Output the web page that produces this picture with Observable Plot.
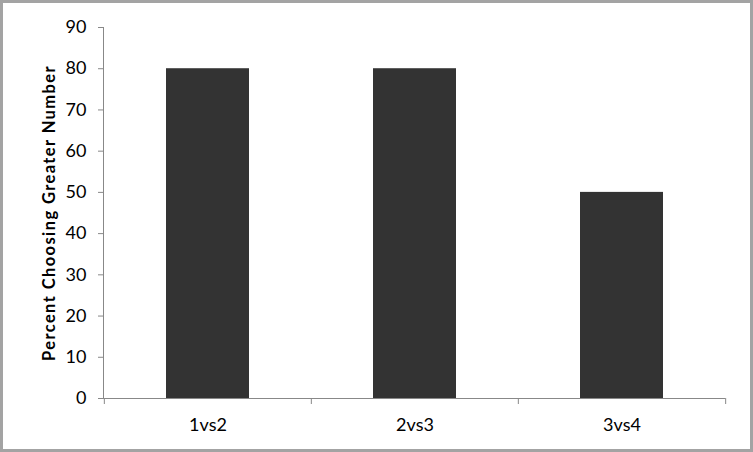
<!DOCTYPE html>
<html><head><meta charset="utf-8">
<script src="https://cdn.jsdelivr.net/npm/d3@7"></script>
<script src="https://cdn.jsdelivr.net/npm/@observablehq/plot@0.6"></script>
<style>
body{margin:0;background:#fff;}
#chart svg{outline:3px solid #a3a3a3;outline-offset:-3px;display:block;}
.ylab text{letter-spacing:1.4px;}
</style>
</head><body><div id="chart"></div>
<script>
const categories = ["1vs2", "2vs3", "3vs4"];
const values = [80, 80, 50];
const yTicks = [0, 10, 20, 30, 40, 50, 60, 70, 80, 90];
const yLabel = "Percent Choosing Greater Number";

const data = categories.map((c, i) => ({c, v: values[i]}));
const W = 753, H = 452, ML = 103, MR = 28, MT = 27, MB = 54;
const step = (W - ML - MR) / categories.length;
const bounds = categories.map(c => ({c, dx: -step / 2})).concat([{c: categories[categories.length - 1], dx: step / 2}]);

const chart = Plot.plot({
  width: W, height: H,
  marginLeft: ML, marginRight: MR, marginTop: MT, marginBottom: MB,
  style: {fontFamily: "Lato, sans-serif", fontSize: "18px", color: "#000", background: "#fff"},
  x: {domain: categories, paddingInner: 0.6, paddingOuter: 0.3, label: null},
  y: {domain: [0, 90], label: null},
  marks: [
    Plot.barY(data, {x: "c", y: "v", fill: "#333333"}),
    Plot.axisY({ticks: yTicks, tickSize: 5, tickPadding: 12, stroke: "#888", fill: "#000", fontSize: 18, label: null}),
    Plot.axisX({tickSize: 0, tickPadding: 20, fill: "#000", fontSize: 18, label: null}),
    Plot.frame({anchor: "left", stroke: "#888"}),
    Plot.ruleY([0], {stroke: "#888"}),
    ...bounds.map(b => Plot.ruleX([b], {x: "c", y1: 0, y2: 0, insetBottom: -6, dx: b.dx, stroke: "#888"})),
    Plot.text([yLabel], {className: "ylab", frameAnchor: "left", textAnchor: "middle", dx: -54, rotate: -90, text: d => d, fontWeight: "bold", fontSize: 16.5, fill: "#000"})
  ]
});
document.getElementById("chart").appendChild(chart);
</script></body></html>
